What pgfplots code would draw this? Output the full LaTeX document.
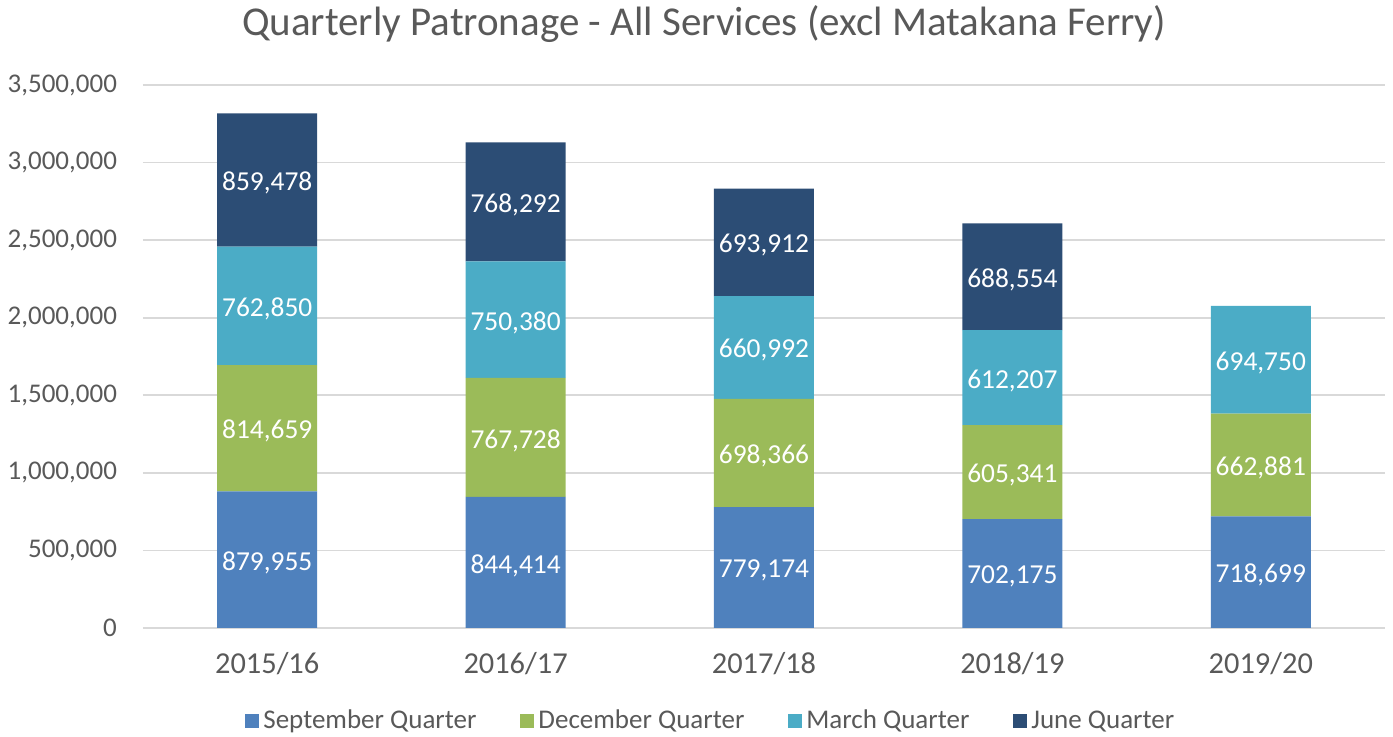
\documentclass[border=0pt]{standalone}
\usepackage{pgfplots}
\pgfplotsset{compat=1.18}
\usepackage{pgfplotstable}
\usepackage{fontspec}
\setmainfont{Carlito}
\definecolor{cSep}{HTML}{4F81BD}
\definecolor{cDec}{HTML}{9BBB59}
\definecolor{cMar}{HTML}{4BACC6}
\definecolor{cJun}{HTML}{2C4D75}
\definecolor{txt}{HTML}{595959}
\definecolor{grd}{HTML}{D9D9D9}

\pgfplotstableread{
x sep dec mar
0 879955 814659 762850
1 844414 767728 750380
2 779174 698366 660992
3 702175 605341 612207
4 718699 662881 694750
}\datamain
\pgfplotstableread{
x jun
0 859478
1 768292
2 693912
3 688554
}\datajun

\begin{document}
\begin{tikzpicture}
\begin{axis}[
  width=621pt, height=271.5pt, scale only axis,
  ybar stacked, bar width=50pt,
  xmin=-0.5, xmax=4.5, ymin=0, ymax=3500000,
  xtick={0,1,2,3,4},
  xticklabels={2015/16,2016/17,2017/18,2018/19,2019/20},
  ytick={0,500000,1000000,1500000,2000000,2500000,3000000,3500000},
  scaled y ticks=false,
  yticklabel style={/pgf/number format/fixed, /pgf/number format/1000 sep={,}, /pgf/number format/assume math mode=true, font=\fontsize{13.5pt}{16pt}\selectfont, text=txt, xshift=-9.5pt},
  xticklabel style={font=\fontsize{15.2pt}{18pt}\selectfont, text=txt, yshift=-8.5pt},
  major tick length=0pt,
  axis line style={draw=none},
  ymajorgrids, major grid style={grd, line width=0.8pt},
  title={Quarterly Patronage - All Services (excl Matakana Ferry)},
  title style={at={(0.4517,1)}, anchor=center, yshift=24.5pt, font=\fontsize{20.5pt}{24pt}\selectfont, text=txt},
  point meta=rawy,
  nodes near coords={\pgfmathprintnumber[fixed,precision=0,1000 sep={,},assume math mode=true]{\pgfplotspointmeta}},
  every node near coord/.append style={font=\fontsize{13.7pt}{16pt}\selectfont, text=white, anchor=center, yshift=-1.5pt},
  legend style={at={(0.458,-0.171)}, anchor=center, draw=none, legend columns=4, font=\fontsize{13.5pt}{16pt}\selectfont, text=txt,
    /tikz/every even column/.append style={column sep=20pt}},
  legend image code/.code={\fill[#1] (0pt,-3.5pt) rectangle (7pt,3.5pt);},
]
\addplot[fill=cSep, draw=none] table[x=x, y=sep] {\datamain};
\addplot[fill=cDec, draw=none] table[x=x, y=dec] {\datamain};
\addplot[fill=cMar, draw=none] table[x=x, y=mar] {\datamain};
\addplot[fill=cJun, draw=none] table[x=x, y=jun] {\datajun};
\legend{September Quarter, December Quarter, March Quarter, June Quarter}
\end{axis}
\pgfresetboundingbox
\path[use as bounding box] (-71.5pt,-54.5pt) rectangle (625pt,314pt);
\end{tikzpicture}
\end{document}
